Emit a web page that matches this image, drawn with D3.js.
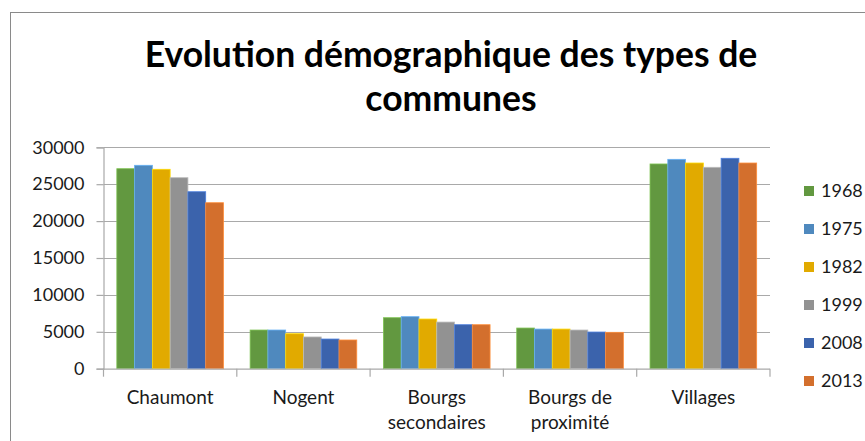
<!DOCTYPE html>
<html>
<head>
<meta charset="utf-8">
<script src="https://cdn.jsdelivr.net/npm/d3@7"></script>
<style>
  html, body { margin: 0; padding: 0; background: #fff; }
  svg { display: block; }
  text { font-family: Lato, "Open Sans", sans-serif; fill: #1a1a1a; }
</style>
</head>
<body>
<svg id="chart" width="865" height="441"></svg>
<script>
// ---- Data ----
const categories = ["Chaumont", "Nogent", "Bourgs\nsecondaires", "Bourgs de\nproximité", "Villages"];
const years = ["1968", "1975", "1982", "1999", "2008", "2013"];
const v1968 = [27100, 5240, 6910, 5510, 27740];
const v1975 = [27560, 5240, 7050, 5370, 28370];
const v1982 = [27020, 4740, 6730, 5370, 27870];
const v1999 = [25880, 4300, 6320, 5240, 27290];
const v2008 = [23980, 4020, 5960, 4970, 28510];
const v2013 = [22490, 3890, 5960, 4930, 27870];
const yTicks = [0, 5000, 10000, 15000, 20000, 25000, 30000];
const titleLines = ["Evolution démographique des types de", "communes"];
const colors = ["#629840", "#4f89be", "#e1aa00", "#929292", "#3b63ac", "#d36f2d"];

const seriesValues = [v1968, v1975, v1982, v1999, v2008, v2013];
const table = categories.map((c, i) => ({
  category: c,
  values: years.map((y, j) => ({ year: y, value: seriesValues[j][i] }))
}));

// ---- Layout ----
const svg = d3.select("#chart");
const plot = { left: 103.5, right: 770, top: 147.3, bottom: 368.7 };

// frame
svg.append("rect")
  .attr("x", 10.5).attr("y", 12.5)
  .attr("width", 900).attr("height", 500)
  .attr("fill", "#fff").attr("stroke", "#8a8a8a").attr("stroke-width", 1);

// title
svg.append("g").selectAll("text").data(titleLines).join("text")
  .attr("x", 451)
  .attr("y", (d, i) => 67 + i * 44)
  .attr("text-anchor", "middle")
  .style("font-size", "35.5px")
  .style("font-weight", "bold")
  .style("fill", "#000")
  .text(d => d);

// scales
const x0 = d3.scaleBand().domain(categories).range([plot.left, plot.right])
  .paddingInner(0.2).paddingOuter(0.1);
const x1 = d3.scaleBand().domain(years).range([0, x0.bandwidth()]);
const y = d3.scaleLinear().domain([0, 30000]).range([plot.bottom, plot.top]);
const color = d3.scaleOrdinal().domain(years).range(colors);

// gridlines
svg.append("g").selectAll("line").data(yTicks.filter(t => t > 0)).join("line")
  .attr("x1", plot.left).attr("x2", plot.right)
  .attr("y1", d => Math.round(y(d)) + 0.5).attr("y2", d => Math.round(y(d)) + 0.5)
  .attr("stroke", "#a9a9a9").attr("stroke-width", 1.2);

// y axis
const yAxis = svg.append("g")
  .attr("transform", `translate(${plot.left},0)`)
  .call(d3.axisLeft(y).tickValues(yTicks).tickSize(7).tickPadding(12).tickFormat(d3.format("d")));
yAxis.select(".domain").attr("stroke", "#a9a9a9").attr("stroke-width", 1.2);
yAxis.selectAll(".tick line").attr("stroke", "#a9a9a9").attr("stroke-width", 1.2);
yAxis.selectAll(".tick text").style("font-size", "18px").style("font-family", "Lato, sans-serif").attr("fill", "#1a1a1a");

// bars
const groups = svg.append("g").selectAll("g").data(table).join("g")
  .attr("transform", d => `translate(${x0(d.category)},0)`);
groups.selectAll("rect").data(d => d.values).join("rect")
  .attr("x", d => x1(d.year))
  .attr("y", d => y(d.value))
  .attr("width", x1.bandwidth())
  .attr("height", d => y(0) - y(d.value))
  .attr("fill", d => color(d.year))
  .attr("stroke", d => d3.color(color(d.year)).brighter(0.7))
  .attr("stroke-width", 0.8);

// x axis
const xAxisG = svg.append("g").attr("transform", `translate(0,${plot.bottom})`);
const boundaries = d3.range(categories.length + 1).map(i => plot.left + i * x0.step());
xAxisG.append("line")
  .attr("x1", plot.left).attr("x2", plot.right).attr("y1", 0.5).attr("y2", 0.5)
  .attr("stroke", "#a9a9a9").attr("stroke-width", 1.2);
xAxisG.selectAll("line.tk").data(boundaries).join("line").attr("class", "tk")
  .attr("x1", d => d).attr("x2", d => d).attr("y1", 0).attr("y2", 8)
  .attr("stroke", "#a9a9a9").attr("stroke-width", 1.2);
const labels = xAxisG.selectAll("text").data(categories).join("text")
  .attr("x", d => x0(d) + x0.bandwidth() / 2)
  .attr("y", 35)
  .attr("text-anchor", "middle")
  .style("font-size", "19px");
labels.each(function(d) {
  const t = d3.select(this);
  d.split("\n").forEach((line, i) => {
    t.append("tspan").attr("x", x0(d) + x0.bandwidth() / 2).attr("dy", i === 0 ? 0 : 25).text(line);
  });
});

// legend
const legend = svg.append("g").selectAll("g").data(years).join("g")
  .attr("transform", (d, i) => `translate(804,${191 + i * 38})`);
legend.append("rect").attr("x", 0).attr("y", -5).attr("width", 10).attr("height", 10)
  .attr("fill", d => color(d));
legend.append("text").attr("x", 17).attr("y", 0).attr("dy", "0.35em")
  .style("font-size", "18px").text(d => d);
</script>
</body>
</html>
